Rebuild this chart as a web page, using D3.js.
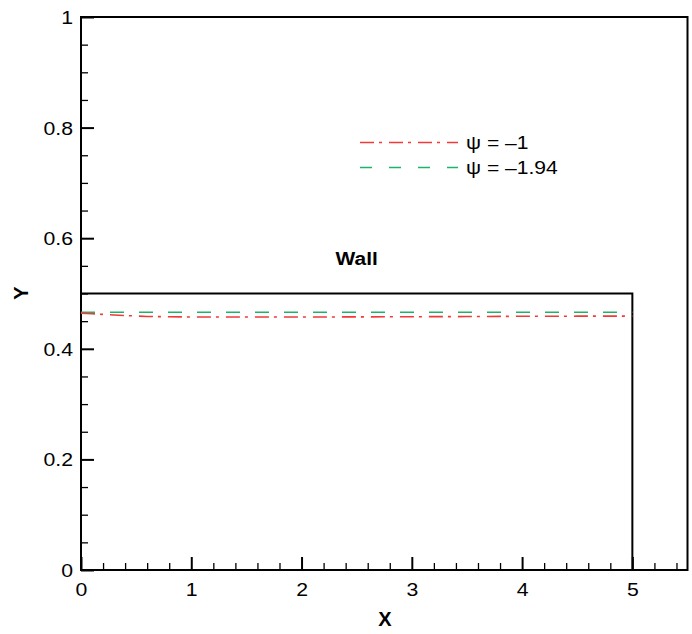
<!DOCTYPE html>
<html><head><meta charset="utf-8">
<script src="https://cdn.jsdelivr.net/npm/d3@7"></script>
<style>
body{margin:0;background:#fff;}
text{font-family:Arial,"Liberation Sans",sans-serif;fill:#000;}
</style></head>
<body>
<svg id="c" width="692" height="634"></svg>
<script>
// Data
const redX = [0, 0.1, 0.3, 0.6, 1, 1.5, 2, 2.5, 3, 3.5, 4, 4.5, 5];
const redY = [0.4645, 0.4635, 0.461, 0.4585, 0.4575, 0.4575, 0.4575, 0.4577, 0.458, 0.4583, 0.4588, 0.459, 0.459];
const greenX = [0, 1, 2, 3, 4, 5];
const greenY = [0.4662, 0.466, 0.466, 0.466, 0.466, 0.466];
const wallX = [0, 5, 5];
const wallY = [0.5, 0.5, 0];
const xTicks = [0, 1, 2, 3, 4, 5];
const yTicks = [0, 0.2, 0.4, 0.6, 0.8, 1];
const legendLabels = ["ψ = –1", "ψ = –1.94"];

const svg = d3.select("#c");
const L = 81, R = 687.5, T = 17, B = 570;
const x = d3.scaleLinear().domain([0, 5.5]).range([L, R]);
const y = d3.scaleLinear().domain([0, 1]).range([B, T]);
const TS = 1.18;  // horizontal stretch of tick labels
const LS = 1.14;  // horizontal stretch of legend text

// minor ticks
const xMinor = d3.range(0, 5.5001, 0.2).filter(v => Math.abs(v - Math.round(v)) > 1e-6);
const yMinor = d3.range(0, 1.0001, 0.05).filter(v => Math.abs(v * 5 - Math.round(v * 5)) > 1e-6);

const gx = svg.append("g").attr("transform", `translate(0,${B})`);
gx.call(d3.axisBottom(x).tickValues(xMinor).tickSize(-7).tickFormat(""));
gx.selectAll(".domain").remove();
gx.selectAll("line").attr("stroke", "#000").attr("stroke-width", 1.3);
const gx2 = svg.append("g").attr("transform", `translate(0,${B})`);
gx2.call(d3.axisBottom(x).tickValues(xTicks).tickSize(-13).tickPadding(0).tickFormat(d3.format("d")));
gx2.selectAll(".domain").remove();
gx2.selectAll("line").attr("stroke", "#000").attr("stroke-width", 2);
gx2.selectAll("text").attr("y", 0).attr("dy", 0)
  .attr("transform", `translate(0,25.5) scale(${TS},1)`)
  .attr("font-size", 18).attr("font-family", "Arial, Liberation Sans, sans-serif").attr("fill", "#000");

const gy = svg.append("g").attr("transform", `translate(${L},0)`);
gy.call(d3.axisLeft(y).tickValues(yMinor).tickSize(-7).tickFormat(""));
gy.selectAll(".domain").remove();
gy.selectAll("line").attr("stroke", "#000").attr("stroke-width", 1.3);
const gy2 = svg.append("g").attr("transform", `translate(${L},0)`);
gy2.call(d3.axisLeft(y).tickValues(yTicks).tickSize(-13).tickPadding(0).tickFormat(d => d === 0 || d === 1 ? d3.format("d")(d) : d3.format(".1f")(d)));
gy2.selectAll(".domain").remove();
gy2.selectAll("line").attr("stroke", "#000").attr("stroke-width", 2);
gy2.selectAll("text").attr("x", 0).attr("dy", "0.36em")
  .attr("transform", `translate(-8,0) scale(${TS},1)`)
  .attr("font-size", 18).attr("font-family", "Arial, Liberation Sans, sans-serif").attr("fill", "#000");

// frame
svg.append("rect").attr("x", L).attr("y", T).attr("width", R - L).attr("height", B - T)
  .attr("fill", "none").attr("stroke", "#000").attr("stroke-width", 2);

// wall
const line = d3.line().x(d => x(d[0])).y(d => y(d[1]));
svg.append("path").attr("d", line(wallX.map((v, i) => [v, wallY[i]])))
  .attr("fill", "none").attr("stroke", "#000").attr("stroke-width", 2);
svg.append("text").attr("transform", `translate(${x(2.5)},${y(0.564)}) scale(1.1,1)`).attr("dy", "0.36em")
  .attr("text-anchor", "middle").attr("font-size", 19).attr("font-weight", "bold").text("Wall");

// series
svg.append("path").attr("d", line(greenX.map((v, i) => [v, greenY[i]])))
  .attr("fill", "none").attr("stroke", "#1fb26b").attr("stroke-width", 1.6)
  .attr("stroke-dasharray", "14,15");
svg.append("path").attr("d", line(redX.map((v, i) => [v, redY[i]])))
  .attr("fill", "none").attr("stroke", "#f03a3a").attr("stroke-width", 1.6)
  .attr("stroke-dasharray", "14,5,3,7");

// legend
const leg = [{c: "#f03a3a", d: "14,5,3,7", t: legendLabels[0], yy: 142.5},
             {c: "#1fb26b", d: "12,17", t: legendLabels[1], yy: 167.5}];
leg.forEach(l => {
  svg.append("line").attr("x1", 360).attr("x2", 458).attr("y1", l.yy).attr("y2", l.yy)
    .attr("stroke", l.c).attr("stroke-width", 1.6).attr("stroke-dasharray", l.d);
  svg.append("text").attr("transform", `translate(466,${l.yy}) scale(${LS},1)`).attr("dy", "0.36em")
    .attr("font-size", 18.5).text(l.t);
});

// axis titles
svg.append("text").attr("x", 385).attr("y", 619).attr("dy", "0.36em").attr("text-anchor", "middle")
  .attr("font-size", 20).attr("font-weight", "bold").text("X");
svg.append("text").attr("transform", "translate(21,293) rotate(-90)").attr("dy", "0.36em")
  .attr("text-anchor", "middle").attr("font-size", 20).attr("font-weight", "bold").text("Y");
</script>
</body></html>
